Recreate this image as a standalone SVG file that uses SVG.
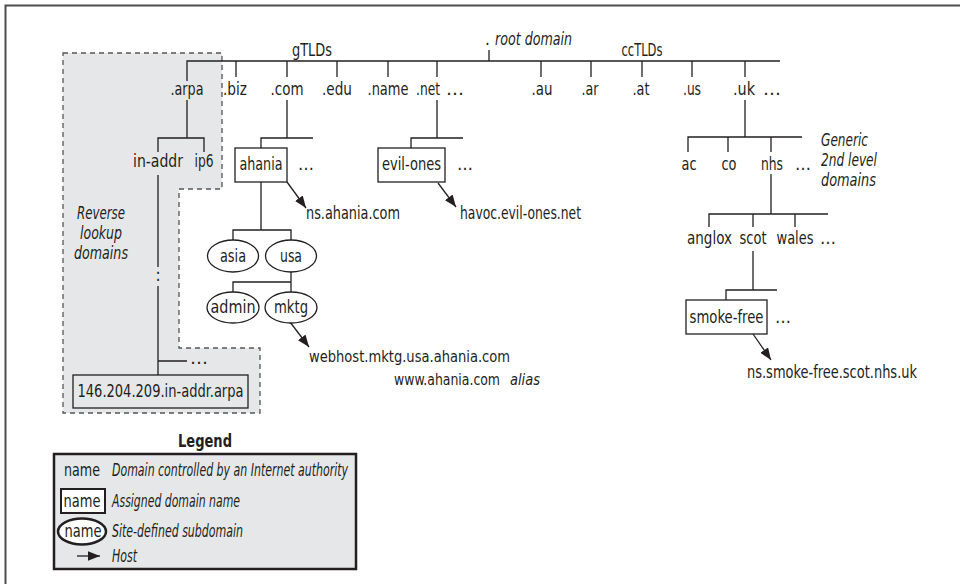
<svg xmlns="http://www.w3.org/2000/svg" width="960" height="584" viewBox="0 0 960 584">
<defs>
<style>
text{font-family:"Liberation Sans Narrow","DejaVu Sans Condensed","Liberation Sans",Arial,sans-serif;font-size:17px;fill:#231f20}
.i{font-style:italic}
.m{text-anchor:middle}
.b{font-weight:bold}
.lg{font-size:18px}
.sm{font-size:16px}
.xs{font-size:15px}
.ln{fill:none;stroke:#231f20;stroke-width:1.3}
.box{fill:#fff;stroke:#231f20;stroke-width:1.3}
.arr{fill:none;stroke:#231f20;stroke-width:1.3;marker-end:url(#ah)}
</style>
<marker id="ah" markerUnits="userSpaceOnUse" markerWidth="13" markerHeight="10" refX="12" refY="4.75" orient="auto">
<path d="M0,0 L12,4.75 L0,9.5 z" fill="#231f20"/>
</marker>
</defs>
<rect width="960" height="584" fill="#fff"/>
<path d="M5.5,584 V5.5 H960" fill="none" stroke="#4d4d4d" stroke-width="2"/>

<g id="reverse-region">
<path d="M63,53 H222 V189 H179 V348 H260 V413 H63 Z" fill="#e6e7e8" stroke="#555" stroke-width="1.3" stroke-dasharray="5,4"/>
<text class="i m" x="101" y="219" textLength="48" lengthAdjust="spacingAndGlyphs">Reverse</text>
<text class="i m" x="101" y="239" textLength="42" lengthAdjust="spacingAndGlyphs">lookup</text>
<text class="i m" x="101" y="259" textLength="54" lengthAdjust="spacingAndGlyphs">domains</text>
</g>

<g id="connectors">
<path class="ln" d="M187,81 V61 H780"/>
<path class="ln" d="M489,50 V61"/>
<path class="ln" d="M236,61 V77 M287,61 V77 M337,61 V77 M388,61 V77 M437,61 V77 M541,61 V77 M591,61 V77 M642,61 V77 M692,61 V77 M745,61 V77"/>
<path class="ln" d="M187,100 V138 M158,152 V138 H204 V152"/>
<path class="ln" d="M287,100 V138 M261,148 V138 H313"/>
<path class="ln" d="M437,100 V138 M411,148 V138 H463"/>
<path class="ln" d="M261,182 V230 M233,240 V230 H291 V240"/>
<path class="ln" d="M291,272 V282 M233,292 V282 H291 V292"/>
<path class="ln" d="M158,175 V267 M158,286 V375 M158,361 H187"/>
<path class="ln" d="M745,100 V137 M688,152 V137 H802 M728,137 V152 M771,137 V152"/>
<path class="ln" d="M771,174 V214 M709,227 V214 H828 M753,214 V227 M795,214 V227"/>
<path class="ln" d="M753,251 V290 M726,300 V290 H777"/>
<path class="arr" d="M287,182 L306,208"/>
<path class="arr" d="M438,183 L456,207"/>
<path class="arr" d="M290,322 L309,347"/>
<path class="arr" d="M753,334 L771,360"/>
</g>

<g id="root">
<text x="485" y="45">.</text>
<text class="i" x="495" y="45" textLength="77" lengthAdjust="spacingAndGlyphs">root domain</text>
<text class="m" x="312" y="56" textLength="40" lengthAdjust="spacingAndGlyphs">gTLDs</text>
<text class="m" x="642" y="56" textLength="41" lengthAdjust="spacingAndGlyphs">ccTLDs</text>
</g>

<g id="tld-arpa"><text class="m" x="187" y="95" textLength="33" lengthAdjust="spacingAndGlyphs">.arpa</text></g>
<g id="tld-biz"><text class="m" x="235" y="95" textLength="24" lengthAdjust="spacingAndGlyphs">.biz</text></g>
<g id="tld-com"><text class="m" x="287" y="95" textLength="33" lengthAdjust="spacingAndGlyphs">.com</text></g>
<g id="tld-edu"><text class="m" x="337" y="95" textLength="30" lengthAdjust="spacingAndGlyphs">.edu</text></g>
<g id="tld-name"><text class="m" x="388" y="95" textLength="41" lengthAdjust="spacingAndGlyphs">.name</text></g>
<g id="tld-net"><text class="m" x="428" y="95" textLength="24" lengthAdjust="spacingAndGlyphs">.net</text><text x="446" y="95" textLength="18" lengthAdjust="spacingAndGlyphs">…</text></g>
<g id="tld-au"><text class="m" x="542" y="95" textLength="21" lengthAdjust="spacingAndGlyphs">.au</text></g>
<g id="tld-ar"><text class="m" x="590" y="95" textLength="17" lengthAdjust="spacingAndGlyphs">.ar</text></g>
<g id="tld-at"><text class="m" x="641" y="95" textLength="17" lengthAdjust="spacingAndGlyphs">.at</text></g>
<g id="tld-us"><text class="m" x="692" y="95" textLength="18" lengthAdjust="spacingAndGlyphs">.us</text></g>
<g id="tld-uk"><text class="m" x="744" y="95" textLength="22" lengthAdjust="spacingAndGlyphs">.uk</text><text x="763" y="95" textLength="18" lengthAdjust="spacingAndGlyphs">…</text></g>

<g id="in-addr"><text class="m" x="158" y="167" textLength="50" lengthAdjust="spacingAndGlyphs">in-addr</text></g>
<g id="ip6"><text class="m" x="204" y="167" textLength="19" lengthAdjust="spacingAndGlyphs">ip6</text></g>
<g id="in-addr-dots"><text class="m" x="158" y="281">:</text><text x="190" y="364" textLength="18" lengthAdjust="spacingAndGlyphs">…</text></g>
<g id="in-addr-arpa">
<rect x="73" y="375" width="175" height="33" fill="none" stroke="#231f20" stroke-width="1.3"/>
<text class="m" x="160.5" y="397" textLength="166" lengthAdjust="spacingAndGlyphs">146.204.209.in-addr.arpa</text>
</g>

<g id="ahania">
<rect class="box" x="235" y="148" width="52" height="34"/>
<text class="m" x="261" y="170" textLength="43" lengthAdjust="spacingAndGlyphs">ahania</text>
<text x="298" y="170" textLength="16" lengthAdjust="spacingAndGlyphs">…</text>
</g>
<g id="ns-ahania"><text x="306" y="219" textLength="94" lengthAdjust="spacingAndGlyphs">ns.ahania.com</text></g>
<g id="evil-ones">
<rect class="box" x="378" y="148" width="67" height="34"/>
<text class="m" x="411.5" y="170" textLength="59" lengthAdjust="spacingAndGlyphs">evil-ones</text>
<text x="457" y="170" textLength="16" lengthAdjust="spacingAndGlyphs">…</text>
</g>
<g id="havoc"><text x="460" y="219" textLength="121" lengthAdjust="spacingAndGlyphs">havoc.evil-ones.net</text></g>

<g id="asia"><ellipse class="box" cx="233" cy="256" rx="25.5" ry="16"/><text class="m" x="233" y="262" textLength="26" lengthAdjust="spacingAndGlyphs">asia</text></g>
<g id="usa"><ellipse class="box" cx="291" cy="256" rx="25.5" ry="16"/><text class="m" x="291" y="262" textLength="22" lengthAdjust="spacingAndGlyphs">usa</text></g>
<g id="admin"><ellipse class="box" cx="233" cy="307.5" rx="26" ry="15.5"/><text class="m" x="233" y="313" textLength="45" lengthAdjust="spacingAndGlyphs">admin</text></g>
<g id="mktg"><ellipse class="box" cx="291" cy="307.5" rx="26" ry="15.5"/><text class="m" x="291" y="313" textLength="34" lengthAdjust="spacingAndGlyphs">mktg</text></g>
<g id="webhost">
<text class="sm" x="309" y="362" textLength="201" lengthAdjust="spacingAndGlyphs">webhost.mktg.usa.ahania.com</text>
<text class="xs" x="394" y="385" textLength="106" lengthAdjust="spacingAndGlyphs">www.ahania.com</text>
<text class="i sm" x="510" y="385" textLength="30" lengthAdjust="spacingAndGlyphs">alias</text>
</g>

<g id="ac"><text class="m" x="689" y="170" textLength="15" lengthAdjust="spacingAndGlyphs">ac</text></g>
<g id="co"><text class="m" x="729" y="170" textLength="15" lengthAdjust="spacingAndGlyphs">co</text></g>
<g id="nhs"><text class="m" x="772" y="170" textLength="22" lengthAdjust="spacingAndGlyphs">nhs</text><text x="795" y="170" textLength="16" lengthAdjust="spacingAndGlyphs">…</text></g>
<g id="generic-label">
<text class="i" x="821" y="146" textLength="47" lengthAdjust="spacingAndGlyphs">Generic</text>
<text class="i" x="821" y="166" textLength="56" lengthAdjust="spacingAndGlyphs">2nd level</text>
<text class="i" x="821" y="186" textLength="55" lengthAdjust="spacingAndGlyphs">domains</text>
</g>
<g id="anglox"><text class="m" x="709.5" y="244" textLength="45" lengthAdjust="spacingAndGlyphs">anglox</text></g>
<g id="scot"><text class="m" x="753" y="244" textLength="27" lengthAdjust="spacingAndGlyphs">scot</text></g>
<g id="wales"><text class="m" x="795" y="244" textLength="37" lengthAdjust="spacingAndGlyphs">wales</text><text x="820" y="244" textLength="16" lengthAdjust="spacingAndGlyphs">…</text></g>
<g id="smoke-free">
<rect class="box" x="686" y="300" width="81" height="34"/>
<text class="m" x="726.5" y="323" textLength="74" lengthAdjust="spacingAndGlyphs">smoke-free</text>
<text x="775" y="323" textLength="16" lengthAdjust="spacingAndGlyphs">…</text>
</g>
<g id="ns-smoke-free"><text x="747" y="378" textLength="170" lengthAdjust="spacingAndGlyphs">ns.smoke-free.scot.nhs.uk</text></g>

<g id="legend">
<text class="b m lg" x="205" y="447" textLength="54" lengthAdjust="spacingAndGlyphs">Legend</text>
<rect x="54" y="454" width="302" height="115" fill="#e6e7e8" stroke="#231f20" stroke-width="2.5"/>
<text class="m lg" x="82" y="476" textLength="36" lengthAdjust="spacingAndGlyphs">name</text>
<text class="i" x="112" y="476" textLength="236" lengthAdjust="spacingAndGlyphs">Domain controlled by an Internet authority</text>
<rect x="61" y="489" width="44" height="24" fill="#fff" stroke="#231f20" stroke-width="2"/>
<text class="m lg" x="82" y="507" textLength="37" lengthAdjust="spacingAndGlyphs">name</text>
<text class="i" x="112" y="507" textLength="128" lengthAdjust="spacingAndGlyphs">Assigned domain name</text>
<ellipse cx="82" cy="531.5" rx="24" ry="13" fill="#fff" stroke="#231f20" stroke-width="2.5"/>
<text class="m lg" x="83" y="537" textLength="37" lengthAdjust="spacingAndGlyphs">name</text>
<text class="i" x="112" y="537" textLength="131" lengthAdjust="spacingAndGlyphs">Site-defined subdomain</text>
<path class="arr" d="M77,556 H100"/>
<text class="i" x="112" y="562" textLength="25" lengthAdjust="spacingAndGlyphs">Host</text>
</g>
</svg>
